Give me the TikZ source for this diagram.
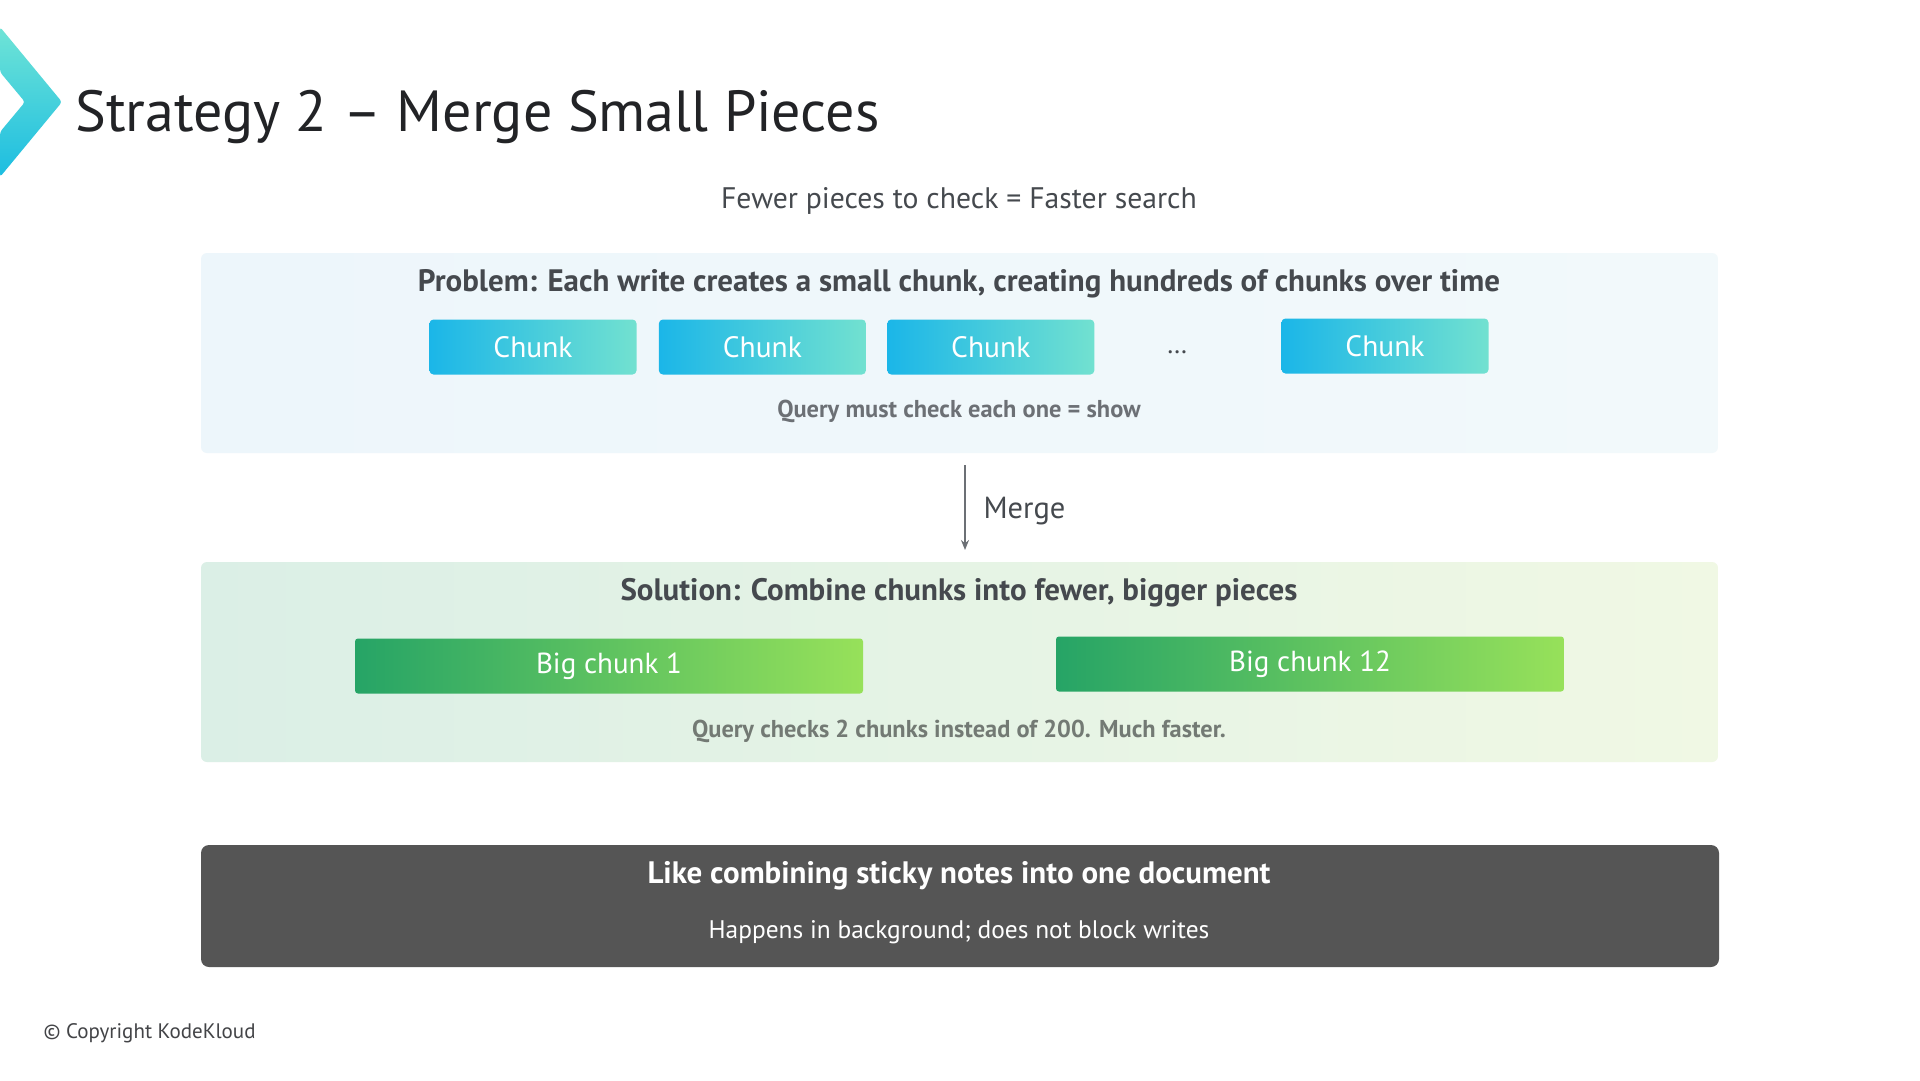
\documentclass[tikz,border=0pt]{standalone}
\usepackage{fontspec}
\setmainfont{PT Sans}
\usetikzlibrary{positioning,arrows.meta}

\definecolor{inkdark}{HTML}{222326}
\definecolor{inkmid}{HTML}{45494E}
\definecolor{inksoft}{HTML}{6C7075}
\definecolor{inkgreen}{HTML}{737A74}
\definecolor{chunkL}{HTML}{1BB6E8}
\definecolor{chunkR}{HTML}{72E1D0}
\definecolor{bigL}{HTML}{26A466}
\definecolor{bigR}{HTML}{97E15A}
\definecolor{probL}{HTML}{EDF6FB}
\definecolor{probR}{HTML}{F2F9FB}
\definecolor{solL}{HTML}{DBEFE6}
\definecolor{solR}{HTML}{F0F8E4}
\definecolor{notebg}{HTML}{555555}
\definecolor{chevT}{HTML}{6FE4D6}
\definecolor{chevB}{HTML}{1CBDE1}

\begin{document}
\begin{tikzpicture}[x=1pt,y=-1pt,
  chunk/.style={rounded corners=4pt,left color=chunkL,right color=chunkR,
    text=white,minimum width=207pt,minimum height=55pt,inner sep=0pt,
    font=\fontsize{29.5}{33}\selectfont},
  bigchunk/.style={rounded corners=3pt,left color=bigL,right color=bigR,
    text=white,minimum width=508pt,minimum height=55pt,inner sep=0pt,
    font=\fontsize{29}{33}\selectfont},
  panel/.style={rounded corners=6pt,minimum width=1517pt,minimum height=200pt,inner sep=0pt},
  heading/.style={font=\fontsize{31}{35}\selectfont\bfseries,text=inkmid},
  remark/.style={font=\fontsize{24.4}{28}\selectfont\bfseries},
  mergearrow/.style={draw=inksoft,line width=2pt,-{Stealth[length=10pt,width=8pt]}}]

  \useasboundingbox[fill=white] (0,0) rectangle (1920,1080);

  % logo chevron
  \shade[top color=chevT,bottom color=chevB,rounded corners=3pt]
    (0,27) -- (62,102) -- (0,177) -- (0,132) -- (25,102) -- (0,72) -- cycle;

  % title and tag line
  \node[anchor=west,text=inkdark,font=\fontsize{58}{66}\selectfont] (title) at (72,117)
    {Strategy 2 -- Merge Small Pieces};
  \node[text=inkmid,font=\fontsize{29.7}{34}\selectfont] (tagline) at (959,201)
    {Fewer pieces to check = Faster search};

  % problem panel
  \node[panel,left color=probL,right color=probR] (prob) at (959.5,353) {};
  \node[heading] (probhead) at (959,284)
    {Problem: Each write creates a small chunk, creating hundreds of chunks over time};
  \node[chunk] (c1) at (533,347) {Chunk};
  \node[chunk,right=22pt of c1] (c2) {Chunk};
  \node[chunk,right=21pt of c2] (c3) {Chunk};
  \node[text=inkmid,font=\fontsize{27}{31}\selectfont] (dots) at (1177,352) {\dots};
  \node[chunk] (c4) at (1385,346) {Chunk};
  \node[remark,text=inksoft] (probnote) at (959,411) {Query must check each one = show};

  % merge step
  \coordinate (mfrom) at (965,465);
  \coordinate (mto) at (965,550);
  \draw[mergearrow] (mfrom) -- (mto);
  \node[anchor=west,text=inkmid,font=\fontsize{30.5}{35}\selectfont] (mergelbl) at (980,511) {Merge};

  % solution panel
  \node[panel,left color=solL,right color=solR] (sol) at (959.5,662) {};
  \node[heading] (solhead) at (959,593) {Solution: Combine chunks into fewer, bigger pieces};
  \node[bigchunk] (b1) at (609,666) {Big chunk 1};
  \node[bigchunk] (b2) at (1310,664) {Big chunk 12};
  \node[remark,text=inkgreen] (solnote) at (959,731) {Query checks 2 chunks instead of 200. Much faster.};

  % analogy box
  \node[fill=notebg,rounded corners=8pt,minimum width=1518pt,minimum height=122pt] (note) at (960,906) {};
  \node[text=white,font=\fontsize{31}{35}\selectfont\bfseries] (notehead) at (959,876)
    {Like combining sticky notes into one document};
  \node[text=white,font=\fontsize{25.4}{29}\selectfont] (notesub) at (959,932)
    {Happens in background; does not block writes};

  \node[anchor=west,text=inkdark!85,font=\fontsize{21}{25}\selectfont] (copy) at (40,1033)
    {© Copyright KodeKloud};
\end{tikzpicture}
\end{document}
